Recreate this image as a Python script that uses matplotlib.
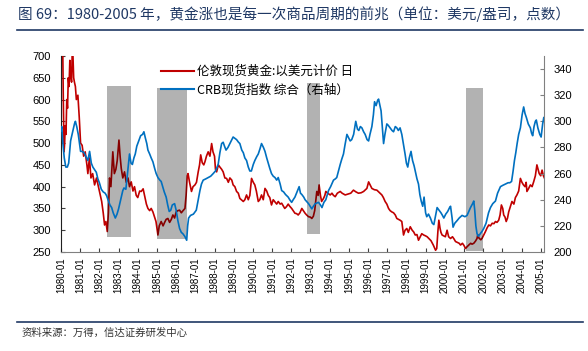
import matplotlib
matplotlib.use('Agg')
import matplotlib.pyplot as plt
from matplotlib.lines import Line2D

# gold, London spot, USD/oz (left axis) -- decimal year, value
gold_t = [1980.00, 1980.03, 1980.06, 1980.09, 1980.12, 1980.16, 1980.19, 1980.22, 1980.26, 1980.30,
          1980.34, 1980.38, 1980.42, 1980.46, 1980.50, 1980.55, 1980.59, 1980.62, 1980.66, 1980.70,
          1980.75, 1980.80, 1980.88, 1980.95, 1981.02, 1981.10, 1981.18, 1981.26, 1981.35, 1981.40,
          1981.48, 1981.56, 1981.65, 1981.75, 1981.85, 1981.95, 1982.05, 1982.12, 1982.20, 1982.27,
          1982.34, 1982.41, 1982.47, 1982.53, 1982.60, 1982.66, 1982.70, 1982.78, 1982.86, 1982.93,
          1983.02, 1983.08, 1983.14, 1983.22, 1983.31, 1983.40, 1983.49, 1983.57, 1983.66, 1983.75,
          1983.83, 1983.92, 1984.00, 1984.10, 1984.18, 1984.28, 1984.39, 1984.45, 1984.53, 1984.62,
          1984.70, 1984.79, 1984.88, 1984.95, 1985.05, 1985.12, 1985.22, 1985.32, 1985.40, 1985.48,
          1985.57, 1985.66, 1985.75, 1985.83, 1985.92, 1986.00, 1986.09, 1986.18, 1986.27, 1986.36,
          1986.46, 1986.52, 1986.58, 1986.62, 1986.70, 1986.80, 1986.88, 1986.98, 1987.06, 1987.15,
          1987.22, 1987.28, 1987.36, 1987.44, 1987.50, 1987.58, 1987.67, 1987.76, 1987.85, 1987.92,
          1988.00, 1988.05, 1988.11, 1988.20, 1988.28, 1988.37, 1988.45, 1988.54, 1988.63, 1988.72,
          1988.80, 1988.90, 1988.97, 1989.06, 1989.15, 1989.24, 1989.32, 1989.40, 1989.50, 1989.58,
          1989.67, 1989.76, 1989.84, 1989.93, 1990.02, 1990.10, 1990.18, 1990.28, 1990.36, 1990.45,
          1990.54, 1990.63, 1990.72, 1990.80, 1990.88, 1990.97, 1991.06, 1991.15, 1991.24, 1991.32,
          1991.42, 1991.50, 1991.58, 1991.66, 1991.75, 1991.84, 1991.92, 1992.02, 1992.10, 1992.19,
          1992.28, 1992.36, 1992.45, 1992.55, 1992.63, 1992.72, 1992.80, 1992.90, 1993.00, 1993.07,
          1993.15, 1993.22, 1993.28, 1993.33, 1993.40, 1993.45, 1993.52, 1993.58, 1993.68, 1993.75,
          1993.80, 1993.90, 1994.03, 1994.12, 1994.20, 1994.29, 1994.40, 1994.55, 1994.65, 1994.81,
          1994.95, 1995.10, 1995.24, 1995.37, 1995.50, 1995.64, 1995.77, 1995.94, 1996.03, 1996.10,
          1996.20, 1996.33, 1996.46, 1996.60, 1996.72, 1996.80, 1996.89, 1996.98, 1997.07, 1997.15,
          1997.24, 1997.33, 1997.42, 1997.50, 1997.58, 1997.67, 1997.76, 1997.85, 1997.93, 1998.02,
          1998.10, 1998.20, 1998.30, 1998.38, 1998.46, 1998.55, 1998.63, 1998.72, 1998.80, 1998.90,
          1999.00, 1999.08, 1999.17, 1999.28, 1999.40, 1999.46, 1999.52, 1999.58, 1999.64, 1999.69,
          1999.75, 1999.80, 1999.86, 1999.95, 2000.03, 2000.12, 2000.20, 2000.30, 2000.40, 2000.48,
          2000.56, 2000.65, 2000.75, 2000.82, 2000.92, 2001.00, 2001.08, 2001.16, 2001.25, 2001.35,
          2001.42, 2001.51, 2001.60, 2001.68, 2001.72, 2001.78, 2001.88, 2001.95, 2002.04, 2002.12,
          2002.20, 2002.29, 2002.38, 2002.47, 2002.56, 2002.64, 2002.72, 2002.81, 2002.88, 2002.95,
          2003.02, 2003.07, 2003.14, 2003.20, 2003.27, 2003.33, 2003.42, 2003.50, 2003.60, 2003.68,
          2003.76, 2003.85, 2003.94, 2004.02, 2004.10, 2004.18, 2004.24, 2004.28, 2004.36, 2004.46,
          2004.55, 2004.63, 2004.72, 2004.80, 2004.86, 2004.92, 2005.00, 2005.07, 2005.14, 2005.20]
gold_v = [690, 760, 800, 720, 600, 480, 500, 540, 520, 600,
          580, 650, 630, 690, 660, 640, 720, 705, 650, 640,
          630, 600, 610, 560, 500, 495, 470, 480, 450, 430,
          466, 420, 430, 404, 420, 400, 380, 366, 340, 312,
          320, 297, 340, 420, 400, 450, 480, 430, 440, 460,
          507, 470, 442, 420, 434, 410, 420, 400, 411, 390,
          400, 380, 375, 390, 389, 395, 373, 360, 350, 345,
          350, 342, 330, 320, 289, 310, 320, 310, 318, 325,
          327, 318, 325, 335, 328, 342, 345, 346, 340, 345,
          350, 380, 425, 430, 410, 389, 400, 404, 410, 434,
          450, 473, 455, 450, 457, 470, 480, 470, 499, 480,
          470, 440, 434, 450, 445, 440, 434, 420, 419, 410,
          420, 415, 404, 400, 389, 385, 373, 370, 366, 370,
          381, 370, 380, 419, 410, 404, 390, 366, 370, 381,
          370, 396, 390, 380, 375, 358, 370, 365, 360, 366,
          360, 362, 356, 350, 354, 360, 355, 350, 345, 339,
          338, 335, 340, 350, 345, 339, 335, 331, 330, 327,
          332, 345, 370, 389, 380, 404, 380, 366, 373, 380,
          389, 385, 381, 385, 380, 377, 385, 389, 385, 381,
          383, 385, 392, 388, 385, 386, 389, 396, 411, 405,
          396, 393, 392, 386, 381, 375, 366, 360, 350, 345,
          342, 340, 335, 327, 325, 323, 320, 289, 300, 304,
          295, 308, 300, 296, 289, 290, 277, 285, 292, 289,
          287, 285, 281, 276, 266, 260, 254, 258, 297, 323,
          305, 295, 289, 287, 285, 300, 285, 281, 285, 280,
          274, 272, 270, 266, 270, 265, 258, 262, 266, 270,
          268, 270, 275, 281, 290, 282, 278, 282, 290, 297,
          305, 312, 310, 316, 315, 320, 318, 323, 335, 358,
          350, 335, 330, 320, 328, 342, 355, 366, 360, 375,
          381, 390, 419, 410, 404, 400, 410, 389, 395, 404,
          400, 411, 425, 450, 440, 430, 425, 438, 425, 419]

# CRB spot index, composite (right axis)
crb_t = [1980.00, 1980.04, 1980.10, 1980.17, 1980.25, 1980.33, 1980.40, 1980.50, 1980.62, 1980.70,
         1980.75, 1980.82, 1980.90, 1981.02, 1981.10, 1981.20, 1981.30, 1981.40, 1981.49, 1981.58,
         1981.66, 1981.75, 1981.84, 1981.92, 1982.00, 1982.10, 1982.20, 1982.30, 1982.38, 1982.45,
         1982.55, 1982.64, 1982.72, 1982.83, 1982.92, 1983.00, 1983.08, 1983.14, 1983.22, 1983.28,
         1983.38, 1983.48, 1983.57, 1983.65, 1983.72, 1983.80, 1983.87, 1983.95, 1984.05, 1984.15,
         1984.25, 1984.32, 1984.40, 1984.47, 1984.53, 1984.62, 1984.70, 1984.79, 1984.88, 1984.96,
         1985.05, 1985.15, 1985.22, 1985.30, 1985.38, 1985.48, 1985.56, 1985.64, 1985.72, 1985.80,
         1985.92, 1986.00, 1986.09, 1986.18, 1986.27, 1986.35, 1986.45, 1986.55, 1986.60, 1986.65,
         1986.75, 1986.90, 1987.05, 1987.15, 1987.24, 1987.32, 1987.41, 1987.55, 1987.67, 1987.80,
         1987.93, 1988.05, 1988.19, 1988.28, 1988.37, 1988.45, 1988.52, 1988.60, 1988.70, 1988.80,
         1988.90, 1988.97, 1989.06, 1989.15, 1989.25, 1989.32, 1989.42, 1989.50, 1989.58, 1989.67,
         1989.76, 1989.84, 1989.92, 1990.02, 1990.10, 1990.20, 1990.28, 1990.37, 1990.45, 1990.55,
         1990.63, 1990.72, 1990.80, 1990.88, 1990.97, 1991.06, 1991.15, 1991.24, 1991.32, 1991.42,
         1991.50, 1991.60, 1991.70, 1991.84, 1991.92, 1992.02, 1992.10, 1992.19, 1992.30, 1992.41,
         1992.48, 1992.55, 1992.65, 1992.72, 1992.90, 1993.07, 1993.15, 1993.25, 1993.42, 1993.52,
         1993.60, 1993.70, 1993.80, 1993.94, 1994.05, 1994.20, 1994.30, 1994.37, 1994.46, 1994.55,
         1994.63, 1994.72, 1994.80, 1994.90, 1995.00, 1995.07, 1995.15, 1995.25, 1995.36, 1995.45,
         1995.52, 1995.60, 1995.68, 1995.77, 1995.85, 1995.95, 1996.03, 1996.10, 1996.20, 1996.28,
         1996.34, 1996.42, 1996.50, 1996.55, 1996.62, 1996.68, 1996.75, 1996.81, 1996.88, 1996.98,
         1997.05, 1997.15, 1997.25, 1997.33, 1997.42, 1997.50, 1997.58, 1997.67, 1997.76, 1997.85,
         1997.93, 1998.00, 1998.07, 1998.15, 1998.24, 1998.32, 1998.40, 1998.46, 1998.55, 1998.63,
         1998.70, 1998.77, 1998.85, 1998.92, 1999.00, 1999.06, 1999.15, 1999.25, 1999.35, 1999.43,
         1999.52, 1999.60, 1999.70, 1999.80, 1999.88, 1999.95, 2000.05, 2000.15, 2000.25, 2000.30,
         2000.38, 2000.43, 2000.52, 2000.64, 2000.75, 2000.90, 2001.05, 2001.16, 2001.25, 2001.34,
         2001.45, 2001.51, 2001.56, 2001.62, 2001.68, 2001.75, 2001.85, 2001.95, 2002.03, 2002.15,
         2002.28, 2002.38, 2002.50, 2002.64, 2002.75, 2002.90, 2003.02, 2003.16, 2003.30, 2003.39,
         2003.48, 2003.56, 2003.63, 2003.70, 2003.77, 2003.85, 2003.94, 2004.03, 2004.11, 2004.18,
         2004.25, 2004.35, 2004.46, 2004.52, 2004.58, 2004.65, 2004.72, 2004.77, 2004.85, 2004.95,
         2005.02, 2005.10, 2005.16, 2005.20]
crb_v = [293, 296, 283, 272, 265, 265, 268, 285, 293, 298,
         300, 296, 290, 277, 277, 276, 273, 270, 277, 268,
         265, 263, 261, 256, 253, 248, 246, 245, 243, 240,
         236, 234, 230, 226, 229, 233, 238, 242, 247, 249,
         248, 262, 275, 268, 267, 272, 275, 281, 285, 289,
         290, 292, 287, 283, 278, 275, 272, 269, 264, 260,
         257, 255, 254, 250, 246, 242, 236, 231, 232, 236,
         237, 232, 224, 218, 215, 214, 212, 209, 220, 226,
         228, 229, 232, 240, 247, 252, 255, 256, 257, 258,
         260, 262, 267, 276, 283, 284, 281, 278, 280, 283,
         286, 288, 287, 286, 284, 283, 278, 276, 272, 270,
         265, 262, 262, 267, 270, 273, 275, 279, 283, 280,
         277, 272, 268, 264, 260, 258, 257, 255, 257, 252,
         247, 246, 244, 242, 240, 238, 240, 242, 246, 250,
         245, 244, 242, 240, 237, 233, 235, 237, 238, 236,
         234, 238, 240, 247, 250, 255, 256, 257, 262, 267,
         271, 275, 282, 290, 287, 285, 286, 290, 300, 294,
         293, 296, 295, 292, 290, 286, 285, 290, 296, 305,
         315, 312, 316, 317, 312, 308, 295, 283, 290, 298,
         297, 295, 293, 292, 296, 295, 293, 295, 290, 282,
         275, 268, 265, 272, 277, 270, 266, 262, 256, 252,
         244, 239, 235, 242, 230, 227, 229, 226, 222, 221,
         228, 234, 232, 230, 228, 226, 229, 231, 234, 235,
         226, 219, 222, 224, 226, 228, 227, 228, 231, 234,
         237, 239, 232, 220, 214, 212, 214, 216, 218, 222,
         230, 234, 237, 239, 245, 250, 251, 252, 253, 253,
         254, 262, 270, 276, 283, 290, 295, 305, 311, 306,
         303, 298, 295, 291, 289, 296, 300, 301, 295, 290,
         288, 298, 303, 300]

# shaded periods: start, end, low, high (left-axis units)
band_start = [1982.41, 1985.02, 1992.83, 2001.13]
band_end = [1983.65, 1986.55, 1993.50, 2002.00]
band_low = [284, 280, 291, 253]
band_high = [632, 627, 639, 627]

years = list(range(1980, 2006))
year_labels = [f'{y}-01' for y in years]

title = '图 69：1980-2005 年，黄金涨也是每一次商品周期的前兆（单位：美元/盎司，点数）'
gold_label = '伦敦现货黄金:以美元计价 日'
crb_label = 'CRB现货指数 综合（右轴）'
source = '资料来源：万得，信达证券研发中心'

cjk = ['Noto Sans CJK SC', 'DejaVu Sans']
num = ['Liberation Sans', 'DejaVu Sans']
navy = '#1f3864'
red = '#c00000'
blue = '#0070c0'

fig = plt.figure(figsize=(5.88, 3.51), dpi=100)
ax = fig.add_axes([61 / 588, 1 - 252 / 351, 483 / 588, 196 / 351])
ax2 = ax.twinx()

ax.plot(gold_t, gold_v, color=red, lw=1.2, zorder=2)
for s, e, lo, hi in zip(band_start, band_end, band_low, band_high):
    ax.fill_between([s, e], lo, hi, color='black', alpha=0.3, lw=0, zorder=3)
ax2.plot(crb_t, crb_v, color=blue, lw=1.2)

ax.set_xlim(1980, 2005.17)
ax.set_ylim(250, 700)
ax.set_yticks(range(250, 701, 50))
ax2.set_ylim(200, 350)
ax2.set_yticks(range(200, 341, 20))
ax.set_xticks(years)
ax.set_xticklabels(year_labels, rotation=90, family=num, fontsize=7)
for lab in ax.get_yticklabels() + ax2.get_yticklabels():
    lab.set_family(num)
    lab.set_fontsize(8)

ax.tick_params(axis='both', direction='in', length=3, width=0.8, colors='#404040', labelcolor='black')
ax.tick_params(axis='y', pad=7)
ax.tick_params(axis='x', pad=4)
ax2.tick_params(axis='y', direction='in', length=3, width=0.8, colors='#808080', labelcolor='black', pad=7)

for a in (ax, ax2):
    a.spines['top'].set_visible(False)
ax.spines['left'].set_color('#202020')
ax.spines['bottom'].set_color('#808080')
ax.spines['right'].set_visible(False)
ax2.spines['left'].set_visible(False)
ax2.spines['bottom'].set_visible(False)
ax2.spines['right'].set_color('#808080')

handles = [Line2D([], [], color=red, lw=1.5), Line2D([], [], color=blue, lw=1.5)]
leg = fig.legend(handles, [gold_label, crb_label], loc='upper left',
                 bbox_to_anchor=(161 / 588, 1 - 65 / 351), frameon=False,
                 prop={'family': cjk, 'size': 9}, handlelength=2.6,
                 handletextpad=0.3, labelspacing=0.45, borderpad=0, borderaxespad=0)

fig.text(18 / 588, 1 - 14 / 351, title, family=cjk, fontsize=10.5, color=navy, va='center',
         ha='left', weight='medium')
fig.add_artist(Line2D([17 / 588, 583 / 588], [1 - 30 / 351] * 2, color=navy, lw=1.2))
fig.add_artist(Line2D([17 / 588, 583 / 588], [1 - 322 / 351] * 2, color=navy, lw=1.2))
fig.text(22 / 588, 1 - 333 / 351, source, family=cjk, fontsize=7.5, color='#333333',
         va='center', ha='left', style='italic')

fig.savefig('out.png', dpi=100)
